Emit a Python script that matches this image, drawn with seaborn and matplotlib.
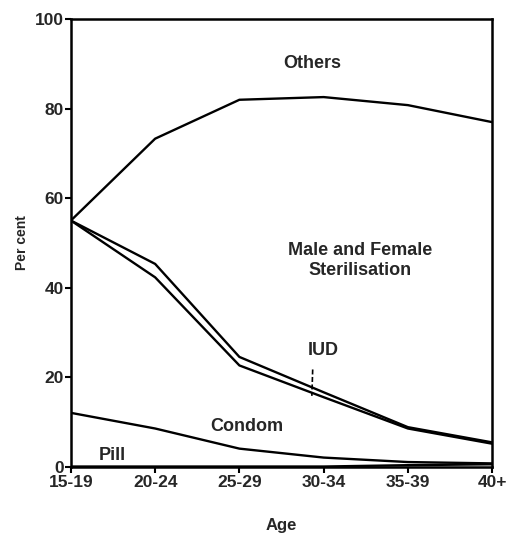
import numpy as np
import pandas as pd
import matplotlib
matplotlib.use('Agg')
import matplotlib.pyplot as plt
import seaborn as sns

# --------------------------
# Data (cumulative percentages)
# --------------------------
ages = ['15-19', '20-24', '25-29', '30-34', '35-39', '40+']
pill_low = [0.0, 0.0, 0.0, 0.0, 0.3, 0.5]
pill_top = [12.0, 8.5, 4.0, 2.0, 1.0, 0.7]
condom_top = [55.0, 42.3, 22.6, 15.5, 8.5, 5.1]
iud_top = [55.0, 45.3, 24.5, 16.6, 8.8, 5.4]
steril_top = [55.0, 73.3, 82.0, 82.6, 80.8, 77.0]

series = {
    'pill_low': pill_low,
    'pill_top': pill_top,
    'condom_top': condom_top,
    'iud_top': iud_top,
    'steril_top': steril_top,
}
rows = []
for name, vals in series.items():
    for i, v in enumerate(vals):
        rows.append({'series': name, 'x': i, 'value': v})
df = pd.DataFrame(rows)

# --------------------------
# Style
# --------------------------
sns.set_style('ticks')
plt.rcParams['font.family'] = ['Liberation Sans', 'DejaVu Sans']
plt.rcParams['font.weight'] = 'bold'

fig = plt.figure(figsize=(5.1, 5.35), dpi=100)
ax = fig.add_axes([0.139, 0.128, 0.826, 0.836])

sns.lineplot(data=df, x='x', y='value', units='series', estimator=None,
             color='black', linewidth=1.7, ax=ax, legend=False)

ax.set_xlim(0, 5)
ax.set_ylim(0, 100)
ax.set_xticks(range(len(ages)))
ax.set_xticklabels(ages, fontsize=12.5, fontweight='bold')
ax.set_yticks([0, 20, 40, 60, 80, 100])
ax.set_yticklabels(['0', '20', '40', '60', '80', '100'], fontsize=12.5, fontweight='bold')
ax.tick_params(direction='out', length=4, width=1.5, color='black')
ax.tick_params(axis='x', pad=2)
ax.tick_params(axis='y', pad=1)
for side in ['top', 'right', 'left', 'bottom']:
    ax.spines[side].set_visible(True)
    ax.spines[side].set_linewidth(1.8)
    ax.spines[side].set_color('black')

ax.set_xlabel('Age', fontsize=12, fontweight='bold', labelpad=20)
ax.set_ylabel('Per cent', fontsize=10, fontweight='bold', labelpad=4)

# Band labels
ax.text(2.87, 90, 'Others', ha='center', va='center', fontsize=13, fontweight='bold')
ax.text(3.43, 46, 'Male and Female\nSterilisation', ha='center', va='center',
        fontsize=13, fontweight='bold', linespacing=1.25)
ax.text(2.99, 26, 'IUD', ha='center', va='center', fontsize=13, fontweight='bold')
ax.plot([2.87, 2.86], [21.7, 15.8], color='black', linewidth=1.2, linestyle=(0, (3, 1.5)))
ax.text(2.09, 8.9, 'Condom', ha='center', va='center', fontsize=13, fontweight='bold')
ax.text(0.49, 2.4, 'Pill', ha='center', va='center', fontsize=13, fontweight='bold')

fig.savefig('out.png', dpi=100, facecolor='white')
